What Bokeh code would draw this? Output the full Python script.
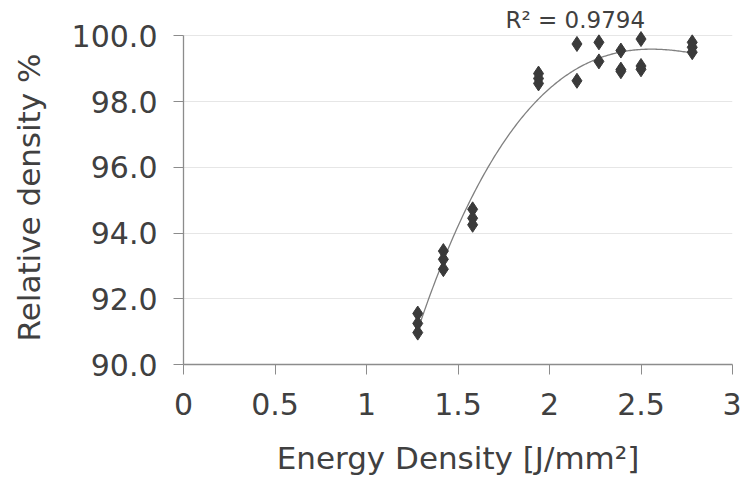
import numpy as np
from bokeh.plotting import figure
from bokeh.models import FixedTicker, NumeralTickFormatter, Range1d
from bokeh.embed import file_html
from bokeh.resources import INLINE

# measured data (energy density J/mm², relative density %)
energy = [1.28, 1.28, 1.28,
          1.42, 1.42, 1.42,
          1.58, 1.58, 1.58,
          1.94, 1.94, 1.94,
          2.15, 2.15,
          2.27, 2.27,
          2.39, 2.39, 2.39,
          2.50, 2.50, 2.50,
          2.78, 2.78, 2.78]
density = [91.55, 91.25, 90.97,
           93.45, 93.20, 92.90,
           94.72, 94.45, 94.25,
           98.85, 98.70, 98.55,
           99.75, 98.63,
           99.80, 99.22,
           99.55, 98.97, 98.92,
           99.90, 99.08, 98.98,
           99.80, 99.65, 99.50]
r2_text = "R² = 0.9794"
y_ticks = [90, 92, 94, 96, 98, 100]
x_ticks = [0, 0.5, 1, 1.5, 2, 2.5, 3]

# polynomial trendline (order 3) computed from the data
coef = np.polyfit(energy, density, 3)
fit_x = np.linspace(min(energy), max(energy), 200)
fit_y = np.polyval(coef, fit_x)

FONT = "DejaVu Sans"
TXT = "#404040"

p = figure(width=741, height=479, output_backend="svg", toolbar_location=None,
           x_range=Range1d(0, 3), y_range=Range1d(90, 100.16),
           min_border_left=183, min_border_right=9, min_border_top=30,
           min_border_bottom=115, title=r2_text)
p.outline_line_color = None
p.background_fill_color = "white"
p.border_fill_color = "white"

# R² annotation as a left-aligned title shifted over the plateau
p.title.align = "left"
p.title.offset = 322
p.title.standoff = -4
p.title.text_font = FONT
p.title.text_font_size = "23px"
p.title.text_font_style = "normal"
p.title.text_color = TXT
p.title.vertical_align = "bottom"

p.line(fit_x, fit_y, line_color="#808080", line_width=1.3)
p.scatter(energy, density, marker="diamond", size=15, fill_color="#3a3a3a",
          line_color="#3a3a3a")

p.xgrid.grid_line_color = None
p.ygrid.grid_line_color = "#e6e6e6"
p.ygrid.grid_line_width = 1

for ax in (p.xaxis[0], p.yaxis[0]):
    ax.axis_line_color = "#8c8c8c"
    ax.axis_line_width = 1.3
    ax.major_tick_line_color = "#8c8c8c"
    ax.major_tick_out = 10
    ax.major_tick_in = 0
    ax.minor_tick_line_color = None
    ax.major_label_text_font = FONT
    ax.major_label_text_font_size = "30px"
    ax.major_label_text_color = TXT
    ax.axis_label_text_font = FONT
    ax.axis_label_text_font_size = "31px"
    ax.axis_label_text_font_style = "normal"
    ax.axis_label_text_color = TXT

p.yaxis.bounds = (90, 100)
p.xaxis.ticker = FixedTicker(ticks=x_ticks)
p.yaxis.ticker = FixedTicker(ticks=y_ticks)
p.yaxis.formatter = NumeralTickFormatter(format="0.0")
p.xaxis.formatter = NumeralTickFormatter(format="0.[0]")
p.xaxis.major_label_standoff = 18
p.yaxis.major_label_standoff = 16
p.xaxis.axis_label = "Energy Density [J/mm²]"
p.yaxis.axis_label = "Relative density %"
p.xaxis.axis_label_standoff = 22
p.yaxis.axis_label_standoff = 22

open("out.html", "w").write(file_html(p, INLINE))
